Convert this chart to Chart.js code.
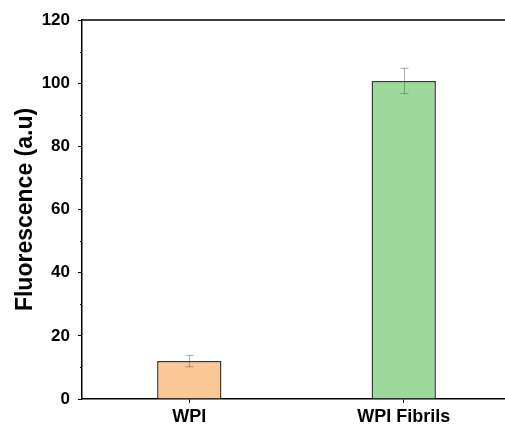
<!DOCTYPE html>
<html>
<head>
<meta charset="utf-8">
<script src="https://cdn.jsdelivr.net/npm/chart.js@4"></script>
<style>
  html, body { margin: 0; padding: 0; background: #fff; overflow: hidden; }
  #wrap { width: 512px; height: 432px; }
</style>
</head>
<body>
<div id="wrap"><canvas id="chart" width="512" height="432"></canvas></div>
<script>
const categories = ['WPI', 'WPI Fibrils'];
const fluorescence = [12.0, 100.7];
const errors = [1.8, 4.0];
const barColors = ['#FAC895', '#9DD99B'];
const yTicks = [0, 20, 40, 60, 80, 100, 120];

// error bars, minor ticks and the top frame line
const extras = {
    id: 'extras',
    afterDatasetsDraw(chart) {
        const ctx = chart.ctx;
        const x = chart.scales.x;
        const y = chart.scales.y;
        const area = chart.chartArea;
        ctx.save();
        ctx.strokeStyle = 'rgba(70,70,70,0.45)';
        ctx.lineWidth = 1;
        fluorescence.forEach((v, i) => {
            const cx = Math.round(x.getPixelForValue(i)) + 0.5;
            const top = y.getPixelForValue(v + errors[i]);
            const bot = y.getPixelForValue(v - errors[i]);
            ctx.beginPath();
            ctx.moveTo(cx, top); ctx.lineTo(cx, bot);
            ctx.moveTo(cx - 4, top); ctx.lineTo(cx + 4, top);
            ctx.moveTo(cx - 4, bot); ctx.lineTo(cx + 4, bot);
            ctx.stroke();
        });
        ctx.strokeStyle = '#000';
        ctx.lineWidth = 1;
        for (let v = 10; v < 120; v += 20) {
            const py = Math.round(y.getPixelForValue(v)) + 0.5;
            ctx.beginPath();
            ctx.moveTo(area.left - 2, py); ctx.lineTo(area.left, py);
            ctx.stroke();
        }
        ctx.lineWidth = 1.5;
        ctx.beginPath();
        ctx.moveTo(area.left, area.top); ctx.lineTo(area.right, area.top);
        ctx.moveTo(area.right, area.top); ctx.lineTo(area.right, area.bottom);
        ctx.stroke();
        ctx.restore();
    }
};

new Chart(document.getElementById('chart'), {
    type: 'bar',
    data: {
        labels: categories,
        datasets: [{
            data: fluorescence,
            backgroundColor: barColors,
            borderColor: '#3a3a3a',
            borderWidth: 1.5,
            barPercentage: 0.3,
            categoryPercentage: 1
        }]
    },
    options: {
        responsive: false,
        animation: false,
        layout: { padding: { top: 20, right: 1, left: 0, bottom: 0 } },
        plugins: { legend: { display: false }, tooltip: { enabled: false } },
        scales: {
            x: {
                grid: { offset: false, drawOnChartArea: false, tickLength: 4, color: '#000', lineWidth: 1 },
                border: { color: '#000', width: 1.5 },
                ticks: { color: '#000', padding: 3, font: { family: 'Liberation Sans, Arial', size: 18, weight: 'bold' } },
                afterFit(scale) { scale.height = 33; }
            },
            y: {
                min: 0,
                max: 120,
                afterBuildTicks(scale) { scale.ticks = yTicks.map(v => ({ value: v })); },
                grid: { drawOnChartArea: false, tickLength: 4, color: '#000', lineWidth: 1 },
                border: { color: '#000', width: 1.5 },
                ticks: { color: '#000', padding: 8, font: { family: 'Liberation Sans, Arial', size: 17, weight: 'bold' } },
                title: {
                    display: true,
                    text: 'Fluorescence (a.u)',
                    color: '#000',
                    padding: { top: 12, bottom: 0 },
                    font: { family: 'Liberation Sans, Arial', size: 23, weight: 'bold' }
                },
                afterFit(scale) { scale.width = 82; }
            }
        }
    },
    plugins: [extras]
});
</script>
</body>
</html>
